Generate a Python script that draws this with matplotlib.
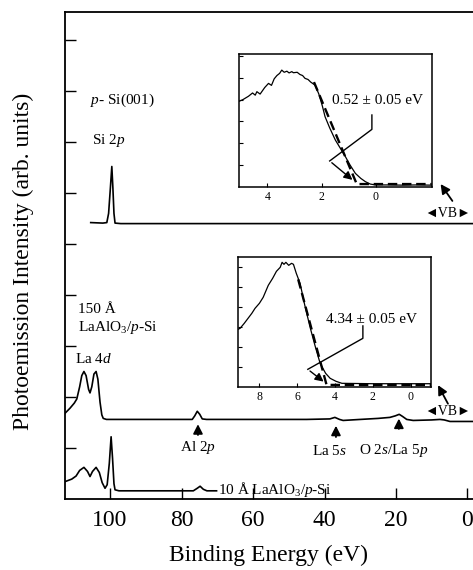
import matplotlib
matplotlib.use("Agg")
import matplotlib.pyplot as plt

plt.rcParams['font.family'] = ['Liberation Serif', 'DejaVu Serif']
plt.rcParams['mathtext.fontset'] = 'custom'
plt.rcParams['mathtext.rm'] = 'Liberation Serif'
plt.rcParams['mathtext.it'] = 'Liberation Serif:italic'

# --- main spectra (binding energy eV, intensity arb.) ---
si_ev = [105.4, 102.0, 100.9, 100.4, 99.9, 99.5, 99.2, 98.9, 98.6, 97.0, 60.0, 20.0, -1.6]
si_int = [5.42, 5.41, 5.42, 5.6, 6.1, 6.52, 6.1, 5.6, 5.41, 5.40, 5.40, 5.40, 5.40]

thick_ev = [112.6, 111.2, 110.0, 109.3, 108.5, 107.9, 107.3, 106.7, 106.0, 105.6, 105.1,
            104.5, 103.9, 103.4, 102.8, 102.3, 101.9, 101.0, 90.0, 77.0, 76.3, 75.6,
            74.9, 74.2, 73.0, 60.0, 45.0, 38.5, 37.1, 35.8, 34.8, 30.0, 25.0, 21.7,
            20.2, 19.1, 18.2, 17.0, 15.2, 10.0, 7.7, 6.5, 4.9, -1.6]
thick_int = [1.68, 1.78, 1.88, 1.96, 2.2, 2.42, 2.5, 2.42, 2.15, 2.08, 2.2,
             2.45, 2.5, 2.35, 1.9, 1.65, 1.58, 1.56, 1.56, 1.56, 1.63, 1.72,
             1.66, 1.57, 1.56, 1.56, 1.56, 1.57, 1.60, 1.56, 1.54, 1.56, 1.58, 1.60,
             1.63, 1.66, 1.62, 1.56, 1.54, 1.55, 1.56, 1.55, 1.52, 1.52]

thin_ev = [112.6, 110.7, 109.5, 108.5, 107.3, 106.3, 105.6, 104.9, 103.9, 103.0, 102.2,
           101.4, 100.8, 100.2, 99.7, 99.3, 98.9, 98.6, 97.5, 76.7, 75.6, 74.8, 73.9,
           72.9, 70.2]
thin_int = [0.34, 0.39, 0.45, 0.56, 0.62, 0.54, 0.44, 0.54, 0.62, 0.52, 0.32,
            0.21, 0.28, 0.7, 1.22, 0.8, 0.3, 0.18, 0.16, 0.16, 0.21, 0.25, 0.19,
            0.16, 0.16]

# --- valence band insets ---
vb1_ev = [5.08, 4.9, 4.7, 4.55, 4.45, 4.39, 4.27, 4.1, 3.96, 3.85, 3.75, 3.65, 3.55,
          3.47, 3.38, 3.28, 3.2, 3.1, 3.04, 2.9, 2.8, 2.7, 2.61, 2.5, 2.4, 2.24,
          2.1, 1.97, 1.87, 1.7, 1.49, 1.3, 1.12, 0.95, 0.75, 0.55, 0.38, 0.2, 0.01,
          -0.5, -1.0, -1.5, -2.07]
vb1_int = [3.9, 4.0, 4.15, 4.3, 4.2, 4.36, 4.25, 4.55, 4.74, 4.65, 4.95, 5.1, 5.2,
           5.35, 5.25, 5.3, 5.22, 5.28, 5.23, 5.25, 5.15, 5.1, 4.97, 4.92, 4.8, 4.66,
           4.25, 3.7, 3.21, 2.7, 2.14, 1.75, 1.38, 1.0, 0.61, 0.38, 0.23, 0.12, 0.08,
           0.08, 0.07, 0.08, 0.07]
vb1_fit_ev = [2.28, 0.7, -2.07]
vb1_fit_int = [4.8, 0.12, 0.12]

vb2_ev = [9.13, 9.02, 8.8, 8.6, 8.4, 8.23, 8.0, 7.8, 7.53, 7.3, 7.1, 6.9, 6.8, 6.7,
          6.6, 6.45, 6.3, 6.2, 6.05, 5.85, 5.6, 5.32, 5.05, 4.79, 4.5, 4.26, 3.95,
          3.64, 2.0, 0.0, -1.07]
vb2_int = [2.9, 2.95, 3.2, 3.45, 3.7, 3.95, 4.2, 4.5, 5.1, 5.45, 5.8, 6.0, 6.25, 6.15,
           6.25, 6.1, 6.2, 6.15, 5.7, 5.2, 4.1, 3.0, 2.05, 1.2, 0.7, 0.45, 0.3,
           0.2, 0.18, 0.18, 0.18]
vb2_fit_ev = [5.95, 4.45, -1.07]
vb2_fit_int = [5.4, 0.12, 0.12]

main_xticks = [100, 80, 60, 40, 20, 0]

fig = plt.figure(figsize=(4.73, 5.70), dpi=100)
fig.patch.set_facecolor("white")

ax = fig.add_axes([0.1374, 0.1246, 0.8626, 0.8544])
ax.plot(si_ev, si_int, color="black", lw=1.2)
ax.plot(thick_ev, thick_int, color="black", lw=1.2)
ax.plot(thin_ev, thin_int, color="black", lw=1.2)
ax.set_xlim(112.6, -1.54)
ax.set_ylim(0, 9.55)
ax.set_xticks(main_xticks)
ax.set_xticklabels([str(t) for t in main_xticks])
ax.set_yticks(range(1, 10))
ax.set_yticklabels([])
ax.tick_params(direction="in", length=8, width=1, labelsize=17, pad=8)
ax.spines["right"].set_visible(False)
for s in ["left", "bottom", "top"]:
    ax.spines[s].set_linewidth(1.3)
ax.set_xlabel("Binding Energy (eV)", fontsize=17, labelpad=10)
fig.text(0.049, 1 - 261 / 570, "Photoemission Intensity (arb. units)",
         rotation=90, ha="center", va="center", fontsize=17)

# labels
fs = 11
ax.text(105.6, 7.82, r"$\mathit{p}$- Si(001)", fontsize=fs, ha="left", va="center")
ax.text(105.0, 7.02, r"Si 2$\mathit{p}$", fontsize=fs, ha="left", va="center")
ax.text(108.95, 3.71, "150 Å", fontsize=fs, ha="left", va="center")
ax.text(108.95, 3.37, r"LaAlO$_3$/$\mathit{p}$-Si", fontsize=fs, ha="left", va="center")
ax.text(109.8, 2.75, r"La 4$\mathit{d}$", fontsize=fs, ha="left", va="center")
ax.text(69.7, 0.18, r"10 Å LaAlO$_3$/$\mathit{p}$-Si", fontsize=fs, ha="left", va="center")

arrow_kw = dict(arrowstyle="-|>,head_length=0.55,head_width=0.28", color="black", lw=1.3)
ax.annotate("", xy=(75.4, 1.52), xytext=(75.4, 1.2), arrowprops=arrow_kw)
ax.text(75.4, 1.0, r"Al 2$\mathit{p}$", fontsize=fs, ha="center", va="center")
ax.annotate("", xy=(36.8, 1.49), xytext=(36.8, 1.16), arrowprops=arrow_kw)
ax.text(38.6, 0.95, r"La 5$\mathit{s}$", fontsize=fs, ha="center", va="center")
ax.annotate("", xy=(19.2, 1.63), xytext=(19.2, 1.32), arrowprops=arrow_kw)
ax.text(20.6, 0.95, r"O 2$\mathit{s}$/La 5$\mathit{p}$", fontsize=fs, ha="center", va="center")

# VB markers
ax.text(5.6, 5.6, "◄VB►", fontsize=10, ha="center", va="center")
ax.annotate("", xy=(7.97, 6.22), xytext=(3.78, 5.8), arrowprops=arrow_kw)
ax.text(5.45, 1.71, "◄VB►", fontsize=10, ha="center", va="center")
ax.annotate("", xy=(8.6, 2.28), xytext=(5.1, 1.82), arrowprops=arrow_kw)


def draw_inset(rect, ev, inten, fit_ev, fit_int, xlim, ylim, xticks, label,
               text_xy, top_xy, knee_xy, vertex_xy, tip_xy):
    ins = fig.add_axes(rect)
    ins.plot(ev, inten, color="black", lw=0.9)
    ins.plot(fit_ev, fit_int, color="black", lw=1.7, dashes=(4, 2))
    ins.set_xlim(*xlim)
    ins.set_ylim(*ylim)
    ins.set_xticks(xticks)
    ins.set_xticklabels([str(t) for t in xticks])
    ins.set_yticks(range(1, int(ylim[1]) + 1))
    ins.set_yticklabels([])
    ins.tick_params(direction="in", length=3, width=0.8, labelsize=8.5, pad=3)
    for s in ins.spines.values():
        s.set_linewidth(1.1)
    ins.text(text_xy[0], text_xy[1], label, fontsize=11, ha="center", va="center")
    ins.plot([top_xy[0], knee_xy[0], vertex_xy[0]],
             [top_xy[1], knee_xy[1], vertex_xy[1]], color="black", lw=1.0)
    ins.annotate("", xy=tip_xy, xytext=vertex_xy,
                 arrowprops=dict(arrowstyle="-|>,head_length=0.5,head_width=0.25",
                                 color="black", lw=1.0))
    return ins


draw_inset([0.5053, 0.6725, 0.4074, 0.2328], vb1_ev, vb1_int, vb1_fit_ev, vb1_fit_int,
           (5.05, -2.07), (0, 6.09), [4, 2, 0], "0.52 ± 0.05 eV",
           (-0.05, 3.97), (0.14, 3.29), (0.14, 2.63), (1.7, 1.18), (0.78, 0.23))
draw_inset([0.5032, 0.3205, 0.4080, 0.2291], vb2_ev, vb2_int, vb2_fit_ev, vb2_fit_int,
           (9.13, -1.07), (0, 6.53), [8, 6, 4, 2, 0], "4.34 ± 0.05 eV",
           (2.06, 3.4), (2.53, 3.07), (2.53, 2.45), (5.44, 0.9), (4.49, 0.2))

fig.savefig("out.png", dpi=100, facecolor="white")
